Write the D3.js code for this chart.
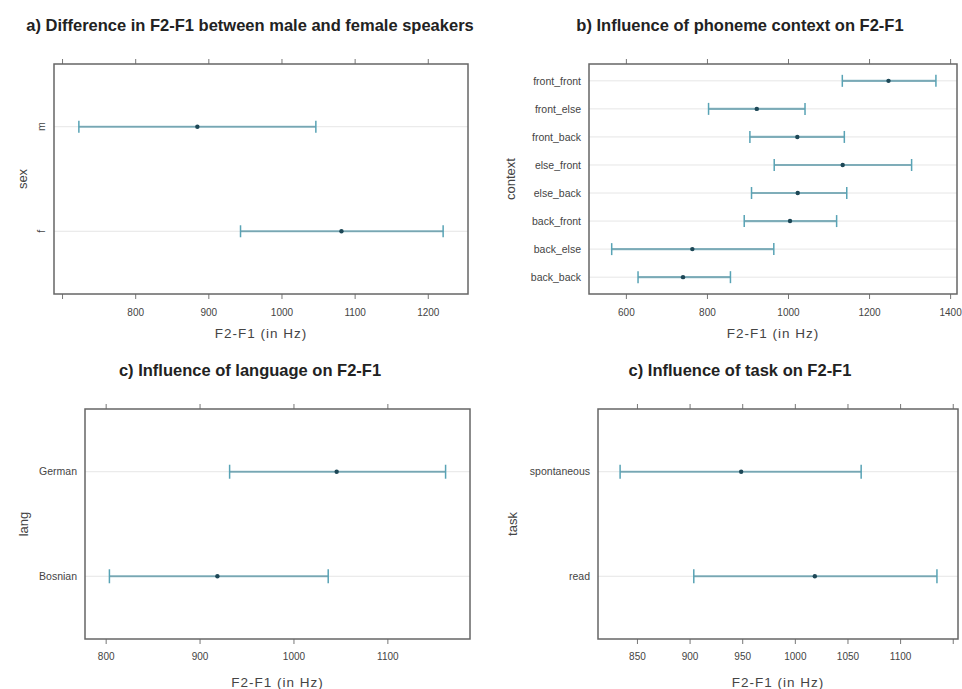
<!DOCTYPE html>
<html><head><meta charset="utf-8">
<script src="https://cdn.jsdelivr.net/npm/d3@7"></script>
<style>body{margin:0;background:#fff}svg{display:block;font-family:Arial,"Liberation Sans",sans-serif}</style>
</head><body>
<svg id="c" width="962" height="689"></svg>
<script>
// ---- data ----
const sexCats = ["m", "f"];
const sexMean = [885, 1082];
const sexLow = [723, 944];
const sexHigh = [1047, 1221];
const sexTicks = [700, 800, 900, 1000, 1100, 1200];

const ctxCats = ["front_front", "front_else", "front_back", "else_front", "else_back", "back_front", "back_else", "back_back"];
const ctxMean = [1248, 923, 1023, 1135, 1024, 1005, 764, 741];
const ctxLow = [1134, 804, 906, 966, 910, 892, 565, 630];
const ctxHigh = [1365, 1042, 1139, 1305, 1145, 1120, 965, 858];
const ctxTicks = [600, 800, 1000, 1200, 1400];

const langCats = ["German", "Bosnian"];
const langMean = [1046, 919];
const langLow = [932, 804];
const langHigh = [1162, 1037];
const langTicks = [800, 900, 1000, 1100];

const taskCats = ["spontaneous", "read"];
const taskMean = [949, 1019];
const taskLow = [834, 904];
const taskHigh = [1063, 1135];
const taskTicks = [850, 900, 950, 1000, 1050, 1100, 1150];

const titles = ["a) Difference in F2-F1 between male and female speakers",
  "b) Influence of phoneme context on F2-F1",
  "c) Influence of language on F2-F1",
  "c) Influence of task on F2-F1"];
const xTitle = "F2-F1 (in Hz)";
const yTitles = ["sex", "context", "lang", "task"];

const svg = d3.select("#c");

function panel(o) {
  const x = d3.scaleLinear().domain(o.xdom).range([o.x0, o.x1]);
  const n = o.cats.length;
  const y = d3.scaleLinear().domain([0.4, n + 0.6]).range([o.y1, o.y0]);
  const yc = (i) => y(n - i);
  const g = svg.append("g");
  // title
  g.append("text").attr("x", o.tx).attr("y", o.ty).attr("text-anchor", "middle")
    .attr("font-size", 16.5).attr("font-weight", "bold").attr("fill", "#222").text(o.title);
  // grid lines
  g.selectAll(".grid").data(o.cats).join("line")
    .attr("x1", o.x0).attr("x2", o.x1)
    .attr("y1", (d, i) => yc(i)).attr("y2", (d, i) => yc(i))
    .attr("stroke", "#e6e6e6").attr("stroke-width", 1);
  // axes (bottom & top ticks)
  const fmt = (d) => (o.hide && o.hide.includes(d)) ? "" : d;
  const bot = g.append("g").attr("transform", `translate(0,${o.y1})`)
    .call(d3.axisBottom(x).tickValues(o.ticks).tickFormat(fmt).tickSize(5).tickPadding(o.tp));
  const top = g.append("g").attr("transform", `translate(0,${o.y0})`)
    .call(d3.axisTop(x).tickValues(o.ticks).tickFormat("").tickSize(5));
  [bot, top].forEach(a => {
    a.select(".domain").remove();
    a.selectAll(".tick line").attr("stroke", "#777");
    a.selectAll("text").attr("font-size", 10).attr("fill", "#444").attr("font-family", "Arial, 'Liberation Sans', sans-serif");
  });
  // y labels
  const yl = g.selectAll(".yl").data(o.cats).join("text")
    .attr("font-size", 10.5).attr("fill", "#444");
  if (o.rot) {
    yl.attr("transform", (d, i) => `translate(${o.x0 - 9},${yc(i)}) rotate(-90)`)
      .attr("text-anchor", "middle").text(d => d);
  } else {
    yl.attr("x", o.x0 - 8).attr("y", (d, i) => yc(i)).attr("dy", "0.35em")
      .attr("text-anchor", "end").text(d => d);
  }
  // error bars
  const bars = g.selectAll(".bar").data(o.cats.map((c, i) => ({ i, lo: o.low[i], hi: o.high[i], m: o.mean[i] }))).join("g");
  bars.append("line").attr("x1", d => x(d.lo)).attr("x2", d => x(d.hi))
    .attr("y1", d => yc(d.i)).attr("y2", d => yc(d.i))
    .attr("stroke", "#8dbac6").attr("stroke-width", 2.2);
  bars.append("line").attr("x1", d => x(d.lo)).attr("x2", d => x(d.hi))
    .attr("y1", d => yc(d.i)).attr("y2", d => yc(d.i))
    .attr("stroke", "#5b8c98").attr("stroke-width", 0.9).attr("opacity", 0.6);
  ["lo", "hi"].forEach(k => {
    bars.append("line").attr("x1", d => x(d[k])).attr("x2", d => x(d[k]))
      .attr("y1", d => yc(d.i) - o.cap).attr("y2", d => yc(d.i) + o.cap)
      .attr("stroke", "#58a3b5").attr("stroke-width", 1.5);
  });
  bars.append("circle").attr("cx", d => x(d.m)).attr("cy", d => yc(d.i)).attr("r", 2.2)
    .attr("fill", "#1d4756");
  // box
  g.append("rect").attr("x", o.x0).attr("y", o.y0).attr("width", o.x1 - o.x0).attr("height", o.y1 - o.y0)
    .attr("fill", "none").attr("stroke", "#666").attr("stroke-width", 1.5);
  // axis titles
  g.append("text").attr("x", (o.x0 + o.x1) / 2).attr("y", o.xly).attr("text-anchor", "middle")
    .attr("font-size", 13.5).attr("letter-spacing", 1).attr("fill", "#444").text(xTitle);
  g.append("text").attr("transform", `translate(${o.ylx},${(o.y0 + o.y1) / 2}) rotate(-90)`)
    .attr("text-anchor", "middle").attr("dy", "0.35em").attr("font-size", 13).attr("fill", "#444").text(o.ytitle);
}

panel({ title: titles[0], tx: 250, ty: 31, x0: 54, x1: 468, y0: 64, y1: 294, xdom: [689, 1255],
  ticks: sexTicks, hide: [700], cats: sexCats, mean: sexMean, low: sexLow, high: sexHigh,
  rot: true, cap: 6, tp: 10, xly: 338, ylx: 22, ytitle: yTitles[0] });
panel({ title: titles[1], tx: 740, ty: 31, x0: 589, x1: 957, y0: 64, y1: 294, xdom: [509, 1417],
  ticks: ctxTicks, cats: ctxCats, mean: ctxMean, low: ctxLow, high: ctxHigh,
  rot: false, cap: 6, tp: 10, xly: 338, ylx: 510, ytitle: yTitles[1] });
panel({ title: titles[2], tx: 250, ty: 376, x0: 85, x1: 470, y0: 409, y1: 639, xdom: [778, 1188],
  ticks: langTicks, cats: langCats, mean: langMean, low: langLow, high: langHigh,
  rot: false, cap: 7, tp: 9, xly: 687, ylx: 23, ytitle: yTitles[2] });
panel({ title: titles[3], tx: 740, ty: 376, x0: 598, x1: 958, y0: 409, y1: 639, xdom: [813, 1155],
  ticks: taskTicks, hide: [1150], cats: taskCats, mean: taskMean, low: taskLow, high: taskHigh,
  rot: false, cap: 7, tp: 9, xly: 687, ylx: 512, ytitle: yTitles[3] });
</script>
</body></html>
